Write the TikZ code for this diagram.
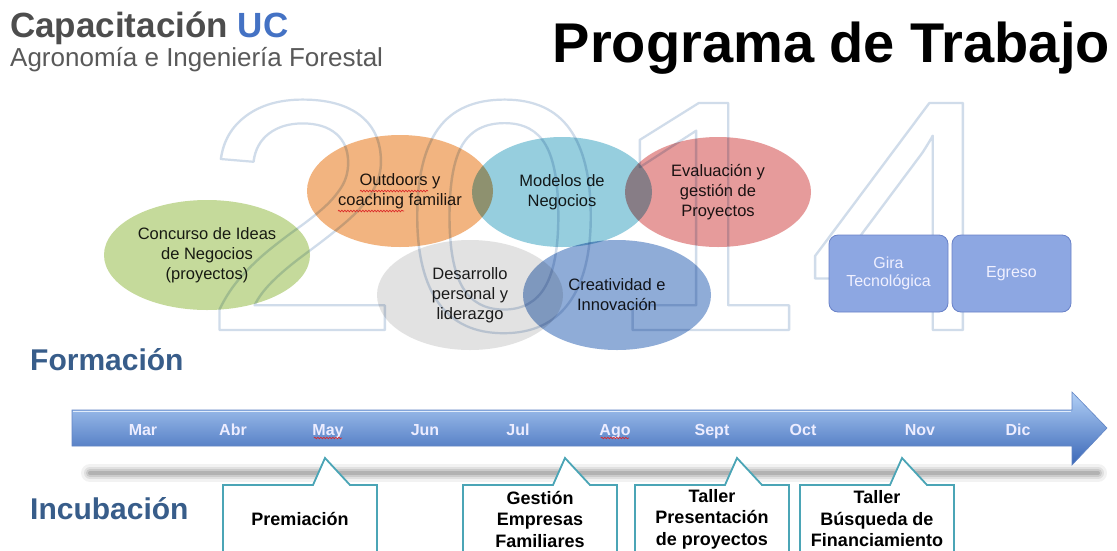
\documentclass[tikz,border=0pt]{standalone}
\usepackage{fontspec}
\setmainfont{Liberation Sans}
\usetikzlibrary{shapes.geometric,decorations.pathmorphing}
\definecolor{capgray}{RGB}{77,77,77}
\definecolor{ucblue}{RGB}{68,114,196}
\definecolor{subgray}{RGB}{89,89,89}
\definecolor{headblue}{RGB}{56,93,138}
\definecolor{wmedge}{RGB}{208,220,234}
\definecolor{cgreen}{RGB}{197,218,155}
\definecolor{corange}{RGB}{242,180,128}
\definecolor{ccyan}{RGB}{150,206,222}
\definecolor{cpink}{RGB}{230,155,155}
\definecolor{cgray}{RGB}{226,226,226}
\definecolor{cblue}{RGB}{143,172,215}
\definecolor{tilefill}{RGB}{141,167,226}
\definecolor{tileedge}{RGB}{105,130,200}
\definecolor{arrtop}{RGB}{178,208,246}
\definecolor{arrmid}{RGB}{110,158,228}
\definecolor{arrbot}{RGB}{58,103,183}
\definecolor{calledge}{RGB}{75,165,182}
\definecolor{spellred}{RGB}{220,40,40}
\newcommand\strokedigits[1]{\special{pdf:literal direct #1 w 1 j 1 Tr}2014\special{pdf:literal direct 0 Tr}}
\tikzset{>=latex}
\tikzstyle{bubble}=[ellipse,inner sep=0pt,align=center,text=black!88,font=\fontsize{16.5}{20}\selectfont]
\tikzstyle{tile}=[rectangle,rounded corners=9pt,fill=tilefill,draw=tileedge,line width=0.8pt,minimum width=119pt,minimum height=77pt,align=center,text=white!94!blue,font=\fontsize{16}{18.5}\selectfont]
\tikzstyle{month}=[anchor=base,text=white!93!blue,font=\bfseries\fontsize{16}{16}\selectfont]
\tikzstyle{calloutbox}=[draw=calledge,fill=white,line width=1.8pt,line join=miter]
\tikzstyle{calltext}=[align=center,font=\bfseries\fontsize{18}{21.5}\selectfont]
\tikzstyle{heading}=[anchor=base west,inner sep=0pt,text=headblue,font=\bfseries\fontsize{30}{30}\selectfont]
\tikzstyle{wmark}=[anchor=base,inner sep=0pt,transform shape,font=\fontsize{330}{330}\selectfont]
\tikzstyle{spell}=[spellred,line width=0.7pt,decorate,decoration={snake,amplitude=0.8pt,segment length=3pt}]

\begin{document}
\begin{tikzpicture}[x=1pt,y=-1pt]
  \useasboundingbox (0,0) rectangle (1117,550);
  \fill[white] (0,0) rectangle (1117,550);
  \node[anchor=base west,inner sep=0pt,text=capgray,font=\bfseries\fontsize{35}{35}\selectfont] (capuc) at (10,37) {Capacitación \textcolor{ucblue}{UC}};
  \node[anchor=base west,inner sep=0pt,text=subgray,font=\fontsize{26}{26}\selectfont] (agro) at (10,66) {Agronomía e Ingeniería Forestal};
  \node[anchor=base east,inner sep=0pt,font=\bfseries\fontsize{56}{56}\selectfont] (prog) at (1110,62) {Programa de Trabajo};

  \begin{scope}[shift={(605,330)},xscale=1.1]
    \node[wmark,text=wmedge] (wm) at (0,0) {\strokedigits{2.2}};
  \end{scope}

  \begin{scope}[blend mode=multiply]
    \node[bubble,fill=cgreen,minimum width=206pt,minimum height=110pt] (concurso) at (207,255) {Concurso de Ideas\\de Negocios\\(proyectos)};
    \node[bubble,fill=corange,minimum width=186pt,minimum height=112pt] (outdoors) at (400,191) {Outdoors y\\coaching familiar};
    \node[bubble,fill=ccyan,minimum width=180pt,minimum height=110pt] (modelos) at (562,192) {Modelos de\\Negocios};
    \node[bubble,fill=cpink,minimum width=186pt,minimum height=110pt] (evaluacion) at (718,192) {Evaluación y\\gestión de\\Proyectos};
    \node[bubble,fill=cgray,minimum width=186pt,minimum height=110pt] (desarrollo) at (470,295) {Desarrollo\\personal y\\liderazgo};
    \node[bubble,fill=cblue,minimum width=188pt,minimum height=110pt] (creatividad) at (617,295) {Creatividad e\\Innovación};
  \end{scope}
  \draw[spell] (360,191) -- (428,191);
  \draw[spell] (338,211) -- (404,211);

  \node[tile] (gira) at (888.5,273.5) {Gira\\Tecnológica};
  \node[tile] (egreso) at (1011.5,273.5) {Egreso};

  \node[heading] (formacion) at (30,370) {Formación};
  \node[heading] (incubacion) at (30,519) {Incubación};

  \foreach \w/\o in {18/0.05,12/0.07,8/0.09,4/0.12}
    \draw[line width=\w pt,line cap=round,black,opacity=\o] (90,473) -- (1098,473);
  \shade[top color=arrtop,middle color=arrmid,bottom color=arrbot,draw=arrbot!80,line width=0.6pt]
    (72,410) -- (1072,410) -- (1072,392) -- (1107,428) -- (1072,465) -- (1072,446) -- (72,446) -- cycle;
  \draw[white!60!arrtop,line width=1.2pt] (73,411.5) -- (1071,411.5);
  \foreach \m/\x in {Mar/143,Abr/233,May/328,Jun/425,Jul/518,Ago/615,Sept/712,Oct/803,Nov/920,Dic/1018}
    \node[month] (m\m) at (\x,435) {\m};
  \draw[spell] ([xshift=5pt,yshift=-3pt]mMay.base west) -- ([xshift=-5pt,yshift=-3pt]mMay.base east);
  \draw[spell] ([xshift=5pt,yshift=-3pt]mAgo.base west) -- ([xshift=-5pt,yshift=-3pt]mAgo.base east);

  \foreach \x/\n/\t in {300/prem/Premiación,540/gest/{Gestión\\Empresas\\Familiares},712/pres/{Taller\\Presentación\\de proyectos},877/busq/{Taller\\Búsqueda de\\Financiamiento}}{
    \draw[calloutbox] (\x-77,485) -- (\x+13,485) -- (\x+25,458) -- (\x+50,485) -- (\x+77,485) -- (\x+77,565) -- (\x-77,565) -- cycle;
    \node[calltext] (\n) at (\x,519) {\t};
  }
\end{tikzpicture}
\end{document}
